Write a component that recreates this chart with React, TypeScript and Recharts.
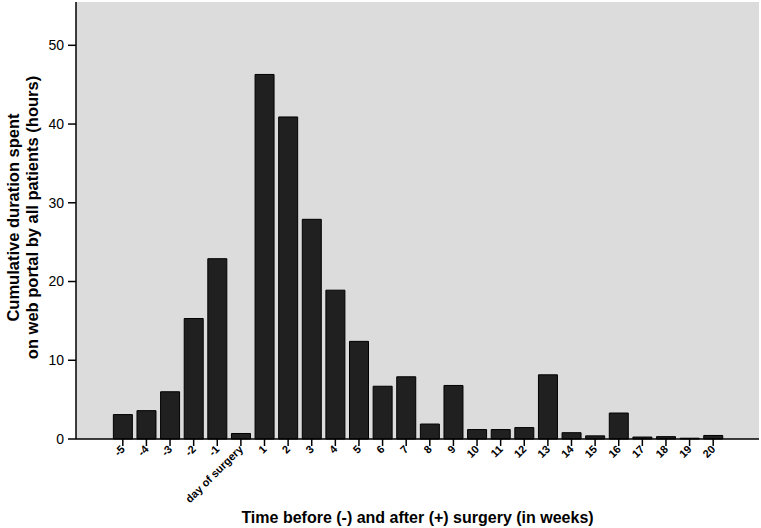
import React from "react"
import { Bar, BarChart, CartesianGrid, XAxis, YAxis } from "recharts"

const weeks = [
  "-5", "-4", "-3", "-2", "-1", "day of surgery",
  "1", "2", "3", "4", "5", "6", "7", "8", "9", "10",
  "11", "12", "13", "14", "15", "16", "17", "18", "19", "20",
]

const hours = [
  3.1, 3.6, 6.0, 15.3, 22.9, 0.7,
  46.3, 40.9, 27.9, 18.9, 12.4, 6.7, 7.9, 1.9, 6.8, 1.2,
  1.2, 1.45, 8.15, 0.8, 0.4, 3.3, 0.25, 0.3, 0.1, 0.45,
]

const yTicks = [0, 10, 20, 30, 40, 50]

const data = weeks.map((week, i) => ({ week, hours: hours[i] }))

const font = "'Liberation Sans', Arial, sans-serif"

function XTick({ x, y, payload }: any) {
  return (
    <g transform={`translate(${x},${y})`}>
      <text
        x={0}
        y={0}
        dy={4}
        textAnchor="end"
        transform="rotate(-45)"
        fontSize={11}
        fontWeight="bold"
        fontFamily={font}
        fill="#000"
      >
        {payload.value}
      </text>
    </g>
  )
}

function YTitle({ viewBox }: any) {
  const cy = viewBox.y + viewBox.height / 2 - 3
  return (
    <g fontFamily={font} fontWeight="bold" fontSize={16.5} fill="#000">
      <text x={13} y={cy} textAnchor="middle" dominantBaseline="central" transform={`rotate(-90, 13, ${cy})`}>
        Cumulative duration spent
      </text>
      <text x={32} y={cy} textAnchor="middle" dominantBaseline="central" transform={`rotate(-90, 32, ${cy})`}>
        on web portal by all patients (hours)
      </text>
    </g>
  )
}

export default function App() {
  return (
    <div style={{ position: "absolute", left: 0, top: 0, width: 761, height: 528, background: "#fff" }}>
      <BarChart
        width={761}
        height={528}
        data={data}
        margin={{ top: 2, right: 2, left: 0, bottom: 0 }}
        barCategoryGap="10%"
      >
        <CartesianGrid fill="#dcdcdc" horizontal={false} vertical={false} />
        <XAxis
          dataKey="week"
          height={89}
          interval={0}
          padding={{ left: 35, right: 34 }}
          tickSize={7}
          tickMargin={1}
          tickLine={{ stroke: "#000", strokeWidth: 1.5 }}
          axisLine={{ stroke: "#000", strokeWidth: 1.5 }}
          tick={<XTick />}
          label={{
            value: "Time before (-) and after (+) surgery (in weeks)",
            position: "insideBottom",
            offset: 5,
            fontSize: 16,
            fontWeight: "bold",
            fontFamily: font,
            fill: "#000",
          }}
        />
        <XAxis
          xAxisId="top"
          orientation="top"
          dataKey="week"
          height={0}
          tick={false}
          tickLine={false}
          axisLine={{ stroke: "#333", strokeWidth: 2 }}
        />
        <YAxis
          width={76}
          domain={[0, 55.5]}
          ticks={yTicks}
          tickSize={8}
          tickMargin={4}
          tickLine={{ stroke: "#000", strokeWidth: 1.5 }}
          axisLine={{ stroke: "#000", strokeWidth: 1.5 }}
          tick={{ fontSize: 14, fill: "#000", fontFamily: font }}
          label={(props: any) => <YTitle {...props} />}
        />
        <YAxis
          yAxisId="right"
          orientation="right"
          width={0}
          domain={[0, 55.5]}
          tick={false}
          tickLine={false}
          axisLine={{ stroke: "#333", strokeWidth: 2 }}
        />
        <Bar
          dataKey="hours"
          fill="#202020"
          stroke="#000"
          strokeWidth={1}
          isAnimationActive={false}
        />
      </BarChart>
    </div>
  )
}
